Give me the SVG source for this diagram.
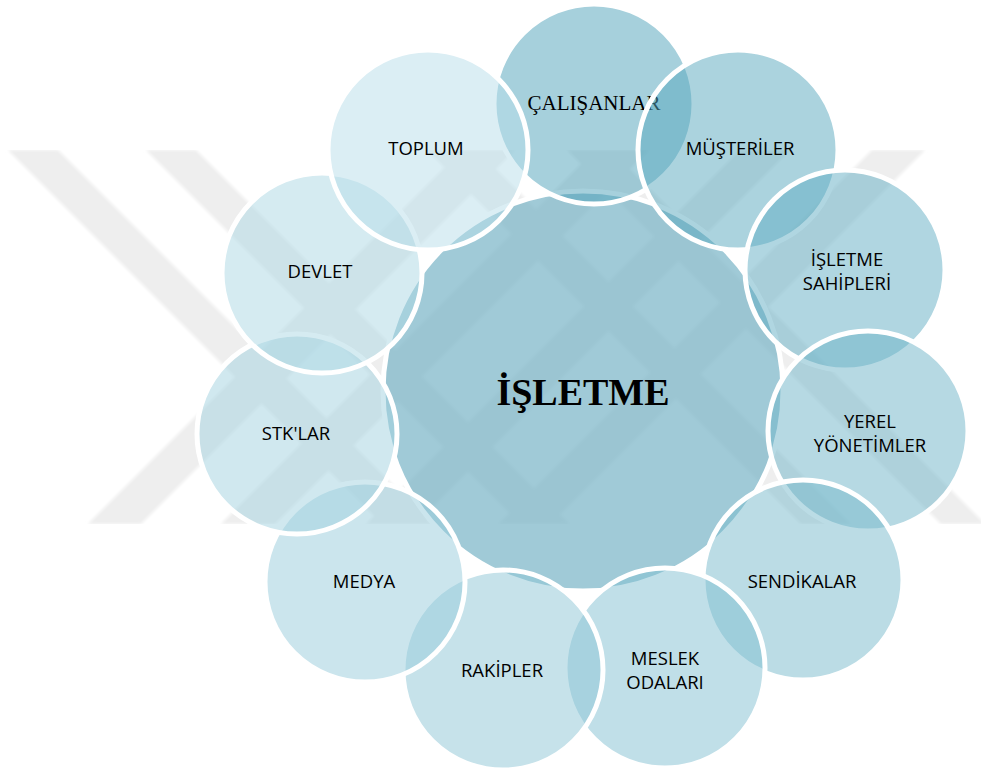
<svg xmlns="http://www.w3.org/2000/svg" width="981" height="773" viewBox="0 0 981 773">
  <defs>
    <style>
      .ring { stroke: #ffffff; stroke-width: 5; fill-opacity: 0.5; }
      .hub { stroke: #ffffff; stroke-width: 5; fill-opacity: 0.72; }
      .lbl { font-family: "Open Sans", "Noto Sans", "DejaVu Sans", sans-serif; font-size: 18.5px; fill: #000000; text-anchor: middle; }
      .serif { font-family: "Liberation Serif", "Times New Roman", serif; fill: #000000; text-anchor: middle; }
      .wm { fill: #eeeeee; }
    </style>
    <clipPath id="wmclip"><rect x="0" y="150" width="981" height="374"/></clipPath>
    <filter id="soft" x="-5%" y="-5%" width="110%" height="110%"><feGaussianBlur stdDeviation="1.5"/></filter>
  </defs>
  <rect x="0" y="0" width="981" height="773" fill="#ffffff"/>

  <g id="watermark" clip-path="url(#wmclip)" filter="url(#soft)">
    <polygon class="wm" points="8,150 58,150 432,524 382,524"/>
    <polygon class="wm" points="146,150 196,150 570,524 520,524"/>
    <polygon class="wm" points="462,150 515,150 141,524 88,524"/>
    <polygon class="wm" points="595,150 649,150 275,524 221,524"/>
    <polygon class="wm" points="872,150 925,150 551,524 498,524"/>
    <polygon class="wm" points="427,150 477,150 851,524 801,524"/>
    <polygon class="wm" points="567,150 611,150 985,524 941,524"/>
    <polygon class="wm" points="740,150 790,150 416,524 366,524"/>
  </g>

  <g id="node-isletme">
    <circle class="hub" cx="583" cy="391" r="200" fill="#7cb6c7"/>
    <text class="serif" x="583" y="405" font-size="38" font-weight="bold">İŞLETME</text>
  </g>

  <g id="node-calisanlar">
    <circle class="ring" cx="594" cy="104" r="100" fill="#4da1b9"/>
    <text class="serif" x="594" y="110" font-size="21">ÇALIŞANLAR</text>
  </g>
  <g id="node-musteriler">
    <circle class="ring" cx="738" cy="150" r="100" fill="#58a7be"/>
    <text class="lbl" x="740" y="155">MÜŞTERİLER</text>
  </g>
  <g id="node-isletme-sahipleri">
    <circle class="ring" cx="845" cy="270" r="100" fill="#62adc3"/>
    <text class="lbl" x="847" y="266">İŞLETME</text>
    <text class="lbl" x="847" y="290">SAHİPLERİ</text>
  </g>
  <g id="node-yerel-yonetimler">
    <circle class="ring" cx="868" cy="431" r="100" fill="#6db3c7"/>
    <text class="lbl" x="870" y="428">YEREL</text>
    <text class="lbl" x="870" y="452">YÖNETİMLER</text>
  </g>
  <g id="node-sendikalar">
    <circle class="ring" cx="803" cy="580" r="100" fill="#77b9cc"/>
    <text class="lbl" x="802" y="588">SENDİKALAR</text>
  </g>
  <g id="node-meslek-odalari">
    <circle class="ring" cx="665" cy="668" r="100" fill="#82bfd1"/>
    <text class="lbl" x="665" y="665">MESLEK</text>
    <text class="lbl" x="665" y="689">ODALARI</text>
  </g>
  <g id="node-rakipler">
    <circle class="ring" cx="503" cy="670" r="100" fill="#8dc5d6"/>
    <text class="lbl" x="502" y="677">RAKİPLER</text>
  </g>
  <g id="node-medya">
    <circle class="ring" cx="365" cy="582" r="100" fill="#97cbdb"/>
    <text class="lbl" x="364" y="588">MEDYA</text>
  </g>
  <g id="node-stklar">
    <circle class="ring" cx="297" cy="434" r="100" fill="#a2d1df"/>
    <text class="lbl" x="296" y="440">STK'LAR</text>
  </g>
  <g id="node-devlet">
    <circle class="ring" cx="322" cy="273" r="100" fill="#acd7e4"/>
    <text class="lbl" x="320" y="278">DEVLET</text>
  </g>
  <g id="node-toplum">
    <circle class="ring" cx="428" cy="150" r="100" fill="#b7dde9"/>
    <text class="lbl" x="426" y="155">TOPLUM</text>
  </g>

  <g id="connectors"/>
</svg>
